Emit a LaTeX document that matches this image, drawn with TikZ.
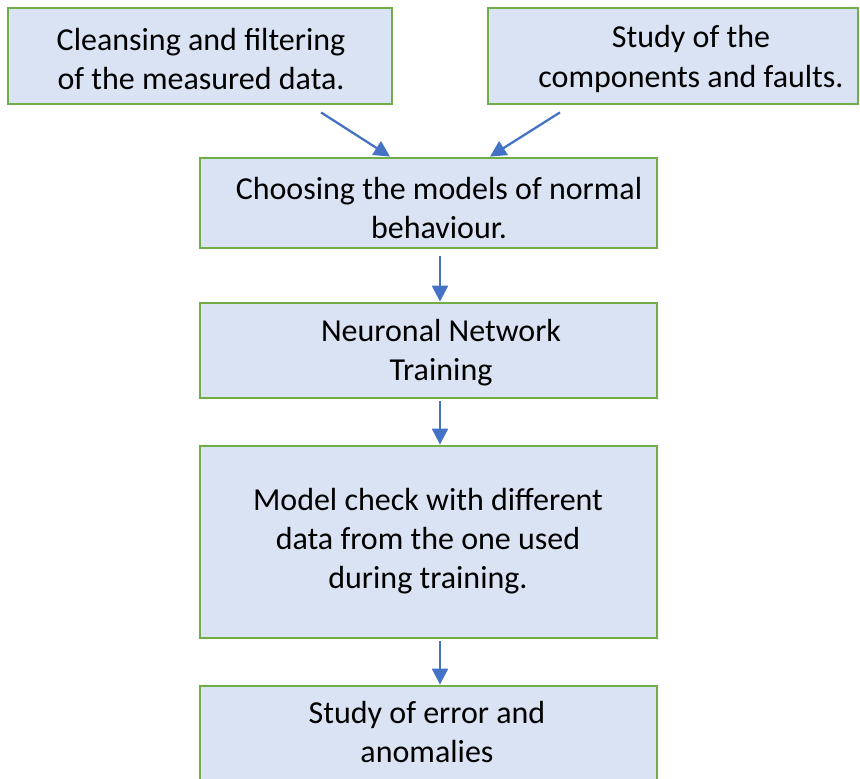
\documentclass[tikz,border=0pt]{standalone}
\usepackage{fontspec}
\setmainfont{Carlito}
\usetikzlibrary{arrows.meta}
\definecolor{boxfill}{HTML}{DAE3F3}
\definecolor{boxedge}{HTML}{70AD47}
\definecolor{arrowblue}{HTML}{4472C4}
\tikzset{
  stepbox/.style={draw=boxedge, fill=boxfill, line width=2.1pt, inner sep=0pt},
  label text/.style={align=center, inner sep=0pt, font=\fontsize{24}{29.3}\selectfont},
  flow/.style={draw=arrowblue, line width=1.7pt, -{Triangle[length=12pt,width=12pt]}}
}
\begin{document}
\begin{tikzpicture}[x=0.75pt, y=-0.75pt]
  \useasboundingbox (0,0) rectangle (860,778);
  \clip (0,0) rectangle (860,778);
  % boxes
  \node[stepbox, minimum width=288pt, minimum height=72pt] (b1) at (200,56) {};
  \node[stepbox, minimum width=277.5pt, minimum height=72pt] (b2) at (673,56) {};
  \node[stepbox, minimum width=342.75pt, minimum height=67.5pt] (b3) at (428.5,203) {};
  \node[stepbox, minimum width=342.75pt, minimum height=71.25pt] (b4) at (428.5,350.5) {};
  \node[stepbox, minimum width=342.75pt, minimum height=144pt] (b5) at (428.5,542) {};
  \node[stepbox, minimum width=342.75pt, minimum height=78pt] (b6) at (428.5,738) {};
  % texts
  \node[label text] (t1) at (201,59) {Cleansing and filtering\\of the measured data.};
  \node[label text] (t2) at (691,59) {Study of the\\components and faults.};
  \node[label text] (t3) at (439,208) {Choosing the models of normal\\behaviour.};
  \node[label text] (t4) at (441,353) {Neuronal Network\\Training};
  \node[label text] (t5) at (428,541) {Model check with different\\data from the one used\\during training.};
  \node[label text] (t6) at (427,732) {Study of error and\\anomalies};
  % connectors
  \draw[flow] ([shift={(121,7)}]b1.south) -- ([shift={(-38.5,0)}]b3.north);
  \draw[flow] ([shift={(-113,7)}]b2.south) -- ([shift={(61.5,0)}]b3.north);
  \draw[flow] ([shift={(11.5,7)}]b3.south) -- ([shift={(11.5,0)}]b4.north);
  \draw[flow] ([shift={(11.5,2)}]b4.south) -- ([shift={(11.5,0)}]b5.north);
  \draw[flow] ([shift={(11.5,2)}]b5.south) -- ([shift={(11.5,0)}]b6.north);
\end{tikzpicture}
\end{document}
